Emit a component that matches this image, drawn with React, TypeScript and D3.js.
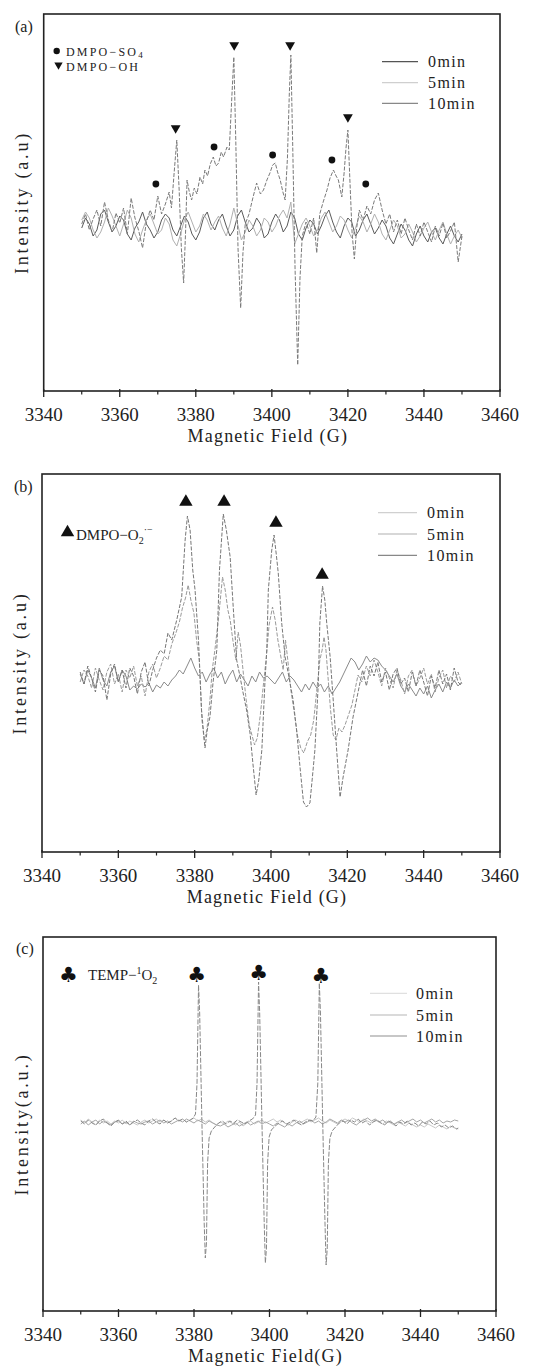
import React from 'react';
import * as d3 from 'd3';

// ---------- shared axis data ----------
const fieldTicks = [3340, 3360, 3380, 3400, 3420, 3440, 3460];
const fieldMinorTicks = [3350, 3370, 3390, 3410, 3430, 3450];
const legendNames = ['0min', '5min', '10min'];
// recorded sweep, sampled every 1 G from 3350 to 3450 G
const sweepGrid = d3.range(3350, 3451, 1);

// ---------- (a) DMPO-SO4 / DMPO-OH ----------
const a0min = [
  0, 10, 4, -8, -2, 14, 18, 6, -4, 2,
  12, 8, -6, -12, 0, 6, 16, 4, -2, -10,
  -4, 8, 14, 10, -2, -8, 2, 12, 6, -6,
  -12, -4, 10, 16, 4, -2, 8, 14, 2, -8,
  -2, 12, 18, 6, -4, 0, 10, 4, -10, -6,
  6, 14, 8, -4, 2, 16, 10, -6, -12, 0,
  8, 4, -6, 2, 12, 18, 6, -4, -10, 2,
  10, 6, -8, -2, 8, 14, 4, -6, 0, 8,
  2, -10, -16, -6, 4, -2, -12, -18, -6, 2,
  -8, -14, -4, 0, -10, -16, -6, 2, -8, -14,
  -6,
];
const a5min = [
  8, 16, 10, -2, -10, -4, 6, 20, 12, 2,
  -8, 4, 18, 10, -6, -14, -2, 8, 14, 4,
  -6, -2, 10, 4, -12, -18, -6, 8, 16, 6,
  -4, 2, 14, 8, -2, 6, 12, 0, -8, 4,
  20, 4, -12, -4, 8, 2, -8, -2, 10, 6,
  -4, 2, 12, 18, 10, 26, -16, -6, 4, 10,
  2, -8, -2, 10, 16, 6, -4, 2, 12, 8,
  -2, -10, 0, 12, 6, -4, 4, 14, 6, -6,
  -12, -2, 8, 2, -10, -6, 4, -4, -14, -8,
  0, 6, -4, -12, -2, 6, -6, -16, -8, -2,
  -10,
];
const a10min: [number, number][] = [
  [3350, 4], [3351, 14], [3352, -2], [3353, 9], [3354, 18], [3355, 2], [3356, 26], [3357, 8],
  [3358, -4], [3359, 15], [3360, 5], [3361, 20], [3362, -6], [3363, 30], [3364, 10], [3365, -3],
  [3366, -20], [3367, 6], [3368, 18], [3369, 8], [3370, 32], [3371, 14], [3372, 24], [3373, 36],
  [3373.6, 20], [3374.3, 55], [3375, 88], [3375.6, 40], [3376.2, -20], [3376.8, -55], [3377.3, -5],
  [3377.7, 48], [3378.3, 36], [3378.9, 28], [3379.6, 40], [3380.3, 34], [3381.1, 51], [3381.8, 44],
  [3382.4, 58], [3383.1, 52], [3383.8, 64], [3384.6, 71], [3385.3, 62], [3386, 65], [3386.7, 76],
  [3387.3, 71], [3388.2, 81], [3388.8, 78], [3389.4, 125], [3390, 171], [3390.5, 90], [3391.1, -20],
  [3391.8, -80], [3392.4, -25], [3393, 4], [3394, 14], [3395, 30], [3396, 45], [3397, 34],
  [3397.8, 38], [3398.7, 48], [3399.5, 55], [3400.2, 63], [3400.9, 65], [3401.5, 56], [3402.2, 48],
  [3402.9, 36], [3403.5, 28], [3404.1, 70], [3404.6, 135], [3405, 173], [3405.5, 80], [3406.1, -40],
  [3406.8, -137], [3407.4, -50], [3408, -8], [3409, 6], [3410, -6], [3411, 10], [3411.8, -25],
  [3412.6, 14], [3413.5, 26], [3414.5, 38], [3415.3, 50], [3416.2, 58], [3416.9, 52], [3417.5, 48],
  [3418.4, 31], [3419, 55], [3419.5, 80], [3420, 98], [3420.5, 50], [3421.1, -5], [3421.7, -31],
  [3422.3, 0], [3423, 18], [3424, 8], [3425, 22], [3426, 14], [3427, 28], [3428, 35], [3429, 18],
  [3430, 4], [3431, 14], [3432, -4], [3433, 8], [3434, -6], [3435, 10], [3436, -2], [3437, -12],
  [3438, 4], [3439, -8], [3440, 6], [3441, -4], [3442, -14], [3443, 2], [3444, -8], [3445, 5],
  [3446, -10], [3447, -3], [3448, 6], [3449, -34], [3450, -8],
];
const aOHMarks: [number, number][] = [[3374.7, 100], [3390.1, 183], [3404.8, 183], [3420, 111]];
const aSO4Marks: [number, number][] = [[3369.5, 44], [3384.8, 81], [3400.2, 73], [3415.8, 68], [3424.7, 44]];

// ---------- (b) DMPO-O2.- ----------
const b0min = [
  6, -4, 10, 2, -8, 12, 0, -6, 8, 14,
  -2, 10, 4, -10, -6, -9, -4, -7, -3, -12,
  -5, -8, -2, -6, 0, 4, 10, 6, 14, 22,
  12, 4, 8, -2, 6, 12, 2, 8, -4, 4,
  10, -2, 6, 0, -6, 4, -2, 8, 2, 4,
  0, -4, 2, 8, -2, 4, 0, -6, -12, -4,
  -10, -2, -8, -4, -12, -6, -14, -8, -2, 6,
  14, 22, 18, 10, 16, 24, 18, 22, 20, 14,
  10, 4, -2, 6, -6, -12, -4, -10, -16, -8,
  -14, -6, -18, -10, -4, -12, -2, -8, 0, -6,
  -2,
];
const b5min: [number, number][] = [
  [3350, -2], [3351, 10], [3352, 4], [3353, -8], [3354, 12], [3355, 0], [3356, -10], [3357, 8],
  [3358, 16], [3359, -4], [3360, 6], [3361, -12], [3362, 10], [3363, 2], [3364, 14], [3365, -6],
  [3366, 4], [3367, -16], [3368, 8], [3369, 16], [3370, 2], [3371, 12], [3372, 24], [3373, 20],
  [3374, 36], [3375, 46], [3376, 58], [3376.8, 72], [3377.6, 82], [3378.3, 95], [3379, 80],
  [3379.8, 67], [3380.5, 40], [3381.2, 20], [3381.9, -40], [3382.5, -60], [3383.2, -50], [3384, -20],
  [3384.6, 10], [3385.3, 30], [3386.2, 60], [3387.3, 103], [3388, 90], [3388.7, 70], [3389.3, 60],
  [3390, 40], [3390.8, 20], [3391.4, 48], [3392, 35], [3392.8, 5], [3393.5, -20], [3394.3, -45],
  [3395, -55], [3395.7, -65], [3396.4, -58], [3397.2, -35], [3398, -5], [3398.7, 20], [3399.5, 55],
  [3400.4, 73], [3401.1, 60], [3401.8, 40], [3402.5, 25], [3403.2, 10], [3403.8, 40], [3404.4, 20],
  [3405.2, -10], [3406, -30], [3406.9, -55], [3407.8, -68], [3408.6, -73], [3409.5, -62], [3410.4, -55],
  [3411.2, -40], [3412, -10], [3412.8, 20], [3413.4, 30], [3413.9, 43], [3414.4, 30], [3415, 0],
  [3415.6, -30], [3416.3, -55], [3417, -60], [3417.8, -48], [3418.6, -52], [3419.4, -45], [3420.3, -35],
  [3421.2, -25], [3422, -10], [3422.8, 5], [3423.8, -2], [3425, 14], [3426, 4], [3427, 20], [3428, 8],
  [3429, -6], [3430, 12], [3431, 2], [3432, -8], [3433, 10], [3434, 0], [3435, -14], [3436, 4],
  [3437, 10], [3438, -6], [3439, 2], [3440, 12], [3441, -4], [3442, 6], [3443, -12], [3444, 2],
  [3445, 10], [3446, -8], [3447, 4], [3448, -2], [3449, 8], [3450, -4],
];
const b10min: [number, number][] = [
  [3350, 8], [3351, -4], [3352, 14], [3353, 2], [3354, -12], [3355, 10], [3356, 4], [3357, -20],
  [3358, 6], [3359, 16], [3360, -2], [3361, 10], [3362, -8], [3363, 12], [3364, 4], [3365, -14],
  [3366, 8], [3367, 18], [3368, -6], [3369, 10], [3370, 22], [3371, 30], [3372, 26], [3373, 47],
  [3374, 40], [3375.3, 60], [3376.6, 83], [3377.5, 140], [3378.1, 164], [3378.8, 150], [3379.5, 110],
  [3380.1, 90], [3381, 40], [3381.8, -30], [3382.7, -68], [3383.3, -50], [3384, -37], [3384.8, -3],
  [3385.8, 30], [3386.5, 110], [3387.5, 166], [3388.3, 150], [3389.3, 123], [3390.1, 73], [3391, 20],
  [3391.8, 5], [3392.7, -13], [3393.6, -30], [3394.5, -53], [3395.3, -85], [3396.1, -115], [3396.8, -100],
  [3397.6, -70], [3398.4, -3], [3398.9, 30], [3399.3, 90], [3400.2, 130], [3400.8, 145], [3401.4, 125],
  [3401.9, 107], [3402.8, 57], [3403.7, 23], [3404.6, 5], [3405.8, -20], [3406.7, -50], [3407.6, -87],
  [3408.5, -122], [3409.3, -127], [3410.2, -123], [3410.9, -95], [3411.5, -70], [3412.4, -3], [3412.8, 57],
  [3413.5, 94], [3414.1, 80], [3414.6, 57], [3415.5, 23], [3416.3, -20], [3417.2, -70], [3418.1, -117],
  [3418.9, -97], [3420.2, -70], [3421.5, -37], [3422.4, -20], [3423.3, -3], [3424, 10], [3425, -6],
  [3426, 14], [3427, 4], [3428, 18], [3429, -2], [3430, 8], [3431, -10], [3432, 6], [3433, 12],
  [3434, -4], [3435, 2], [3436, -12], [3437, 8], [3438, -6], [3439, 10], [3440, -2], [3441, -16],
  [3442, 4], [3443, -8], [3444, 10], [3445, -4], [3446, 6], [3447, -10], [3448, 12], [3449, -2],
  [3450, -6],
];
const bO2Marks: [number, number][] = [[3377.7, 178], [3387.7, 178], [3401.3, 157], [3413.4, 105]];

// ---------- (c) TEMP-1O2 ----------
const c0min = [
  3, 0, 4, 1, -2, 3, 0, 2, -1, 2,
  0, 3, -1, 2, 0, -2, 1, 3, 0, 2,
  4, 1, 3, 0, 2, 5, 2, 4, 1, 3,
  5, 2, 4, 1, 3, 0, -2, 1, -1, 2,
  0, -2, 1, -3, 0, 2, -1, 1, 3, 0,
  2, 4, 1, 3, 0, -2, 1, 3, 0, 2,
  4, 1, 3, 5, 2, 0, 3, 1, -1, 2,
  4, 2, 5, 3, 1, 4, 2, 0, 3, 1,
  -1, 2, 0, -2, 1, -1, -3, 0, -2, -4,
  -2, -4, -1, -3, -5, -2, -4, -6, -3, -5,
  -6,
];
const c5min = [
  -1, 2, -2, 1, 3, -1, 2, 0, -2, 1,
  2, -1, 1, -2, 2, 0, -1, 1, 2, -1,
  1, 3, 0, 2, -1, 1, 3, 1, 4, 2,
  0, 3, 1, -1, 2, 0, -2, -3, -1, -4,
  -2, 0, -3, -1, 1, -2, 0, 2, -1, 1,
  -1, -3, 0, -2, -4, -1, -3, 0, 2, -1,
  1, 3, 0, 2, -1, 1, 4, 2, 0, 3,
  1, 3, 0, -2, 1, 3, 5, 2, 4, 1,
  3, 0, 2, -1, 1, 3, 0, 2, 4, 1,
  3, 0, 2, 4, 1, 3, 0, 2, 1, 3,
  2,
];
const c10min: [number, number][] = [
  [3350, 2], [3351, -1], [3352, 3], [3353, 0], [3354, -2], [3355, 2], [3356, 4], [3357, 0],
  [3358, -3], [3359, 1], [3360, 3], [3361, -1], [3362, 2], [3363, -2], [3364, 1], [3365, 3],
  [3366, 0], [3367, -2], [3368, 2], [3369, 4], [3370, 1], [3371, -1], [3372, 3], [3373, 0],
  [3374, 2], [3375, 5], [3376, 2], [3377, 4], [3378, 1], [3379, 3], [3379.8, 5], [3380.4, 9],
  [3380.8, 40], [3381.2, 138], [3381.5, 110], [3382.1, 0], [3382.7, -100], [3383, -135], [3383.3, -120],
  [3383.6, -40], [3384, -15], [3384.6, -8], [3385.5, -4], [3386.5, 0], [3387.5, 2], [3388.5, -1],
  [3389.5, 2], [3390.5, 0], [3391.5, 3], [3392.5, 1], [3393.5, -1], [3394.5, 2], [3395.5, 4],
  [3396.3, 8], [3396.7, 40], [3397.1, 141], [3397.4, 110], [3398, 0], [3398.6, -100], [3398.9, -140],
  [3399.2, -125], [3399.5, -40], [3399.9, -14], [3400.5, -7], [3401.5, -3], [3402.5, 0], [3403.5, 2],
  [3404.5, -1], [3405.5, 1], [3406.5, 3], [3407.5, 0], [3408.5, -2], [3409.5, 1], [3410.5, 3],
  [3411.5, 2], [3412.3, 6], [3412.8, 40], [3413.2, 140], [3413.5, 110], [3414.1, 0], [3414.7, -100],
  [3415, -142], [3415.3, -125], [3415.6, -40], [3416, -15], [3416.6, -8], [3417.5, -4], [3418.5, 0],
  [3419.5, 2], [3420.5, -1], [3421.5, 3], [3422.5, 1], [3423.5, 4], [3424.5, 0], [3425.5, 2],
  [3426.5, -2], [3427.5, 1], [3428.5, 3], [3429.5, 0], [3430.5, -2], [3431.5, 2], [3432.5, 0],
  [3433.5, -3], [3434.5, 1], [3435.5, -1], [3436.5, 2], [3437.5, -2], [3438.5, 0], [3439.5, -3],
  [3440.5, 1], [3441.5, -1], [3442.5, 2], [3443.5, -2], [3444.5, 0], [3445.5, -4], [3446.5, -2],
  [3447.5, -5], [3448.5, -3], [3449.5, -6], [3450, -5],
];
const cClubMarks: [number, number][] = [[3380.7, 148], [3397.1, 150], [3413.6, 147]];

// ---------- helpers ----------
const onGrid = (vals: number[]): [number, number][] => vals.map((v, i) => [sweepGrid[i], v]);

const SERIF = "'Liberation Serif', 'Times New Roman', serif";
const SANS = "'DejaVu Sans', sans-serif";

type Series = { data: [number, number][]; color: string; dash?: string };
type Frame = { l: number; t: number; r: number; b: number };

type PanelProps = {
  frame: Frame;
  yDomain: [number, number];
  label: string;
  labelXY: [number, number];
  yTitle: string;
  yTitleX: number;
  xTitle: string;
  series: Series[];
  legend: { x1: number; x2: number; tx: number; rows: number[]; colors: string[] };
  annotate: (x: d3.ScaleLinear<number, number>, y: d3.ScaleLinear<number, number>) => React.ReactNode;
};

function Panel(p: PanelProps) {
  const { frame: f } = p;
  const x = d3.scaleLinear().domain([3340, 3460]).range([f.l, f.r]);
  const y = d3.scaleLinear().domain(p.yDomain).range([f.b, f.t]);
  const line = d3
    .line<[number, number]>()
    .x((d) => x(d[0]))
    .y((d) => y(d[1]));
  return (
    <g>
      {p.series.map((s, i) => (
        <path
          key={i}
          d={line(s.data) || ''}
          fill="none"
          stroke={s.color}
          strokeWidth={1}
          strokeDasharray={s.dash}
          strokeLinejoin="round"
        />
      ))}
      <rect x={f.l} y={f.t} width={f.r - f.l} height={f.b - f.t} fill="none" stroke="#222" strokeWidth={1.6} />
      {fieldTicks.map((t) => (
        <g key={t}>
          <line x1={x(t)} x2={x(t)} y1={f.b - 2} y2={f.b + 6} stroke="#222" strokeWidth={1.3} />
          <text x={x(t)} y={f.b + 30} textAnchor="middle" fontSize={19} fontFamily={SERIF} fill="#222">
            {t}
          </text>
        </g>
      ))}
      {fieldMinorTicks.map((t) => (
        <line key={t} x1={x(t)} x2={x(t)} y1={f.b} y2={f.b + 3.5} stroke="#222" strokeWidth={1.2} />
      ))}
      <text
        x={(f.l + f.r) / 2 - 4}
        y={f.b + 51}
        textAnchor="middle"
        fontSize={18}
        letterSpacing={1.2}
        fontFamily={SERIF}
        fill="#222"
      >
        {p.xTitle}
      </text>
      <text
        transform={`translate(${p.yTitleX},${(f.t + f.b) / 2}) rotate(-90)`}
        textAnchor="middle"
        dominantBaseline="central"
        fontSize={18}
        letterSpacing={2.8}
        fontFamily={SERIF}
        fill="#222"
      >
        {p.yTitle}
      </text>
      <text x={p.labelXY[0]} y={p.labelXY[1]} fontSize={16} fontFamily={SERIF} fill="#222">
        {p.label}
      </text>
      {legendNames.map((n, i) => (
        <g key={n}>
          <line x1={p.legend.x1} x2={p.legend.x2} y1={p.legend.rows[i]} y2={p.legend.rows[i]} stroke={p.legend.colors[i]} strokeWidth={1.2} />
          <text x={p.legend.tx} y={p.legend.rows[i] + 5.5} fontSize={16} letterSpacing={1.4} fontFamily={SERIF} fill="#222">
            {n}
          </text>
        </g>
      ))}
      {p.annotate(x, y)}
    </g>
  );
}

const triDown = d3.symbol(d3.symbolTriangle, 42)() || '';
const triDownSmall = d3.symbol(d3.symbolTriangle, 30)() || '';
const triUp = d3.symbol(d3.symbolTriangle, 78)() || '';

export default function App() {
  return (
    <svg width={536} height={1371} style={{ position: 'absolute', left: 0, top: 0, background: '#fff' }}>
      <rect x={0} y={0} width={536} height={1371} fill="#fff" />
      <Panel
        frame={{ l: 43.7, t: 14, r: 500, b: 391 }}
        yDomain={[-163, 214]}
        label="(a)"
        labelXY={[15, 32]}
        yTitle="Intensity (a.u)"
        yTitleX={22}
        xTitle="Magnetic Field (G)"
        series={[
          { data: onGrid(a0min), color: '#5a5a5a' },
          { data: onGrid(a5min), color: '#b0b0b0' },
          { data: a10min, color: '#7a7a7a', dash: '4,1.6' },
        ]}
        legend={{ x1: 382, x2: 418, tx: 428, rows: [61.7, 82.7, 103.3], colors: ['#555', '#cfcfcf', '#888'] }}
        annotate={(x, y) => (
          <g>
            {aOHMarks.map((m, i) => (
              <path key={'oh' + i} d={triDown} transform={`translate(${x(m[0])},${y(m[1])}) rotate(180)`} fill="#111" />
            ))}
            {aSO4Marks.map((m, i) => (
              <circle key={'so' + i} cx={x(m[0])} cy={y(m[1])} r={3.4} fill="#111" />
            ))}
            <circle cx={56.7} cy={51} r={3.2} fill="#111" />
            <text x={66} y={55.5} fontSize={12} letterSpacing={2.2} fontFamily={SERIF} fill="#222">
              DMPO−SO<tspan dy={2} fontSize={9}>4</tspan>
            </text>
            <path d={triDownSmall} transform="translate(58.5,65) rotate(180)" fill="#111" />
            <text x={66} y={70.5} fontSize={12} letterSpacing={2.2} fontFamily={SERIF} fill="#222">
              DMPO−OH
            </text>
          </g>
        )}
      />
      <Panel
        frame={{ l: 42, t: 474, r: 500, b: 852 }}
        yDomain={[-172, 206]}
        label="(b)"
        labelXY={[14, 492]}
        yTitle="Intensity (a.u)"
        yTitleX={20}
        xTitle="Magnetic Field (G)"
        series={[
          { data: onGrid(b0min), color: '#8a8a8a' },
          { data: b5min, color: '#9a9a9a', dash: '4,1.6' },
          { data: b10min, color: '#777', dash: '4,1.6' },
        ]}
        legend={{ x1: 378, x2: 417, tx: 427, rows: [512.7, 534, 555.3], colors: ['#d0d0d0', '#b0b0b0', '#888'] }}
        annotate={(x, y) => (
          <g>
            {bO2Marks.map((m, i) => (
              <path key={'o2' + i} d={triUp} transform={`translate(${x(m[0])},${y(m[1])})`} fill="#111" />
            ))}
            <path d={triUp} transform="translate(67.5,532.5)" fill="#111" />
            <text x={76} y={540} fontSize={15} fontFamily={SERIF} fill="#222">
              DMPO−O<tspan dy={4} fontSize={10}>2</tspan>
              <tspan dy={-11} fontSize={10}>·−</tspan>
            </text>
          </g>
        )}
      />
      <Panel
        frame={{ l: 43, t: 937, r: 496, b: 1311 }}
        yDomain={[-188, 186]}
        label="(c)"
        labelXY={[16, 954]}
        yTitle="Intensity(a.u.)"
        yTitleX={22}
        xTitle="Magnetic Field(G)"
        series={[
          { data: onGrid(c0min), color: '#c8c8c8' },
          { data: onGrid(c5min), color: '#a5a5a5' },
          { data: c10min, color: '#888', dash: '5,1.6' },
        ]}
        legend={{ x1: 370, x2: 407, tx: 416, rows: [993.3, 1015, 1036], colors: ['#e0e0e0', '#b5b5b5', '#909090'] }}
        annotate={(x, y) => (
          <g>
            {cClubMarks.map((m, i) => (
              <text key={'cl' + i} x={x(m[0])} y={y(m[1]) + 7} textAnchor="middle" fontSize={21} fontFamily={SANS} fill="#111">
                ♣
              </text>
            ))}
            <text x={68.3} y={982} textAnchor="middle" fontSize={21} fontFamily={SANS} fill="#111">
              ♣
            </text>
            <text x={88} y={980} fontSize={15} fontFamily={SERIF} fill="#222">
              TEMP−<tspan dy={-6} fontSize={10}>1</tspan>
              <tspan dy={6}>O</tspan>
              <tspan dy={4} fontSize={10}>2</tspan>
            </text>
          </g>
        )}
      />
    </svg>
  );
}
